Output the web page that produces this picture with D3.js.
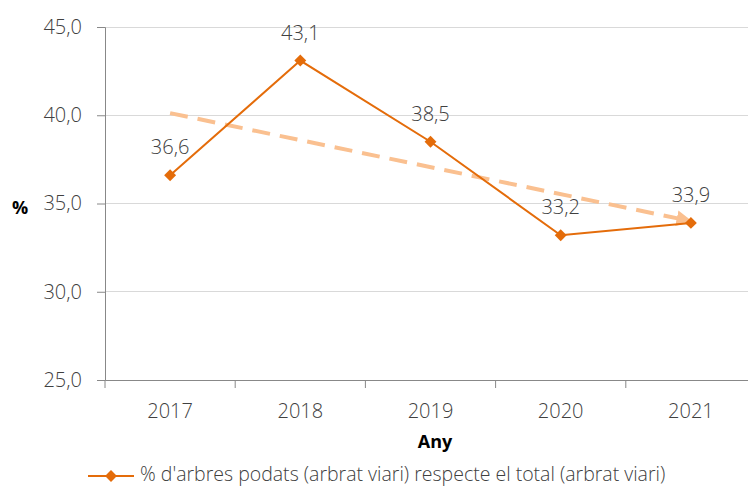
<!DOCTYPE html>
<html><head><meta charset="utf-8">
<script src="https://cdn.jsdelivr.net/npm/d3@7"></script>
<style>body{margin:0;background:#fff}svg{display:block}text{font-family:"Open Sans",sans-serif}</style>
</head><body><svg id="c" width="748" height="487"></svg>
<script>
const years = ["2017","2018","2019","2020","2021"];
const values = [36.6, 43.1, 38.5, 33.2, 33.9];
const yTicks = [25, 30, 35, 40, 45];
const seriesName = "% d'arbres podats (arbrat viari) respecte el total (arbrat viari)";

const svg = d3.select("#c");
const m = {left:105, right:756, top:27, bottom:380};
const x = d3.scaleBand().domain(years).range([m.left, m.right]);
const y = d3.scaleLinear().domain([25,45]).range([m.bottom, m.top]);
const fmt = v => d3.format(".1f")(v).replace(".", ",");
const cx = d => x(d) + x.bandwidth()/2;

// grid
svg.append("g").selectAll("line").data(yTicks.filter(t=>t>25)).join("line")
  .attr("x1", m.left).attr("x2", 748).attr("y1", d=>y(d)).attr("y2", d=>y(d))
  .attr("stroke", "#d9d9d9").attr("stroke-width", 1).attr("shape-rendering","crispEdges");

// y axis
const ya = svg.append("g").attr("transform", `translate(${m.left},0)`)
  .call(d3.axisLeft(y).tickValues(yTicks).tickFormat(fmt).tickSize(8).tickPadding(15));
ya.select(".domain").attr("stroke", "#888");
ya.selectAll(".tick line").attr("stroke", "#888");
ya.selectAll("text").attr("font-size", 20).attr("font-weight", 300).attr("fill", "#404040").attr("font-family", '"Open Sans",sans-serif');

// x axis
const xa = svg.append("g").attr("transform", `translate(0,${m.bottom})`)
  .call(d3.axisBottom(x).tickSizeOuter(0).tickSize(0).tickPadding(24));
xa.select(".domain").attr("stroke", "#888");
xa.selectAll("text").attr("font-size", 20).attr("font-weight", 300).attr("fill", "#404040").attr("font-family", '"Open Sans",sans-serif');
// category boundary ticks
svg.append("g").selectAll("line").data(years).join("line")
  .attr("x1", d=>x(d)).attr("x2", d=>x(d)).attr("y1", m.bottom).attr("y2", m.bottom+8)
  .attr("stroke", "#888");

// trend line (least squares)
const n = values.length;
const xs = d3.range(1, n+1);
const mx = d3.mean(xs), my = d3.mean(values);
const slope = d3.sum(xs.map((v,i)=>(v-mx)*(values[i]-my))) / d3.sum(xs.map(v=>(v-mx)**2));
const t0 = my + slope*(1-mx), t1 = my + slope*(n-mx);
const defs = svg.append("defs");
defs.append("marker").attr("id","arr").attr("viewBox","0 0 10 10").attr("refX",9).attr("refY",5)
  .attr("markerWidth",4).attr("markerHeight",4).attr("orient","auto")
  .append("path").attr("d","M0,0L10,5L0,10Z").attr("fill","#fac090");
svg.append("line")
  .attr("x1", cx(years[0])).attr("y1", y(t0))
  .attr("x2", cx(years[n-1])).attr("y2", y(t1))
  .attr("stroke", "#fac090").attr("stroke-width", 4).attr("stroke-dasharray", "18,10")
  .attr("marker-end", "url(#arr)");

// series
const color = "#e46c0a";
svg.append("path").datum(values)
  .attr("d", d3.line().x((d,i)=>cx(years[i])).y(d=>y(d)))
  .attr("fill","none").attr("stroke", color).attr("stroke-width", 2);
const diamond = d3.symbol().type(d3.symbolDiamond2).size(90);
svg.append("g").selectAll("path").data(values).join("path")
  .attr("transform", (d,i)=>`translate(${cx(years[i])},${y(d)})`)
  .attr("d", diamond).attr("fill", color);

// data labels
svg.append("g").selectAll("text").data(values).join("text")
  .attr("x", (d,i)=>cx(years[i])).attr("y", d=>y(d)-21)
  .attr("text-anchor","middle").attr("font-size", 20).attr("font-weight", 300).attr("fill","#404040")
  .text(fmt);

// axis titles
svg.append("text").attr("x", 20).attr("y", 214).attr("text-anchor","middle")
  .attr("font-size", 18).attr("font-weight", 700).attr("fill","#000").text("%");
svg.append("text").attr("x", 435).attr("y", 448).attr("text-anchor","middle")
  .attr("font-size", 18).attr("font-weight", 700).attr("fill","#000").text("Any");

// legend
const lg = svg.append("g").attr("transform","translate(88,476)");
lg.append("line").attr("x1",0).attr("x2",46).attr("y1",0).attr("y2",0).attr("stroke",color).attr("stroke-width",2);
lg.append("path").attr("transform","translate(23,0)").attr("d", diamond).attr("fill", color);
lg.append("text").attr("x", 52).attr("y", 5).attr("font-size", 19.5).attr("font-weight", 300).attr("fill","#404040").text(seriesName);
</script></body></html>
